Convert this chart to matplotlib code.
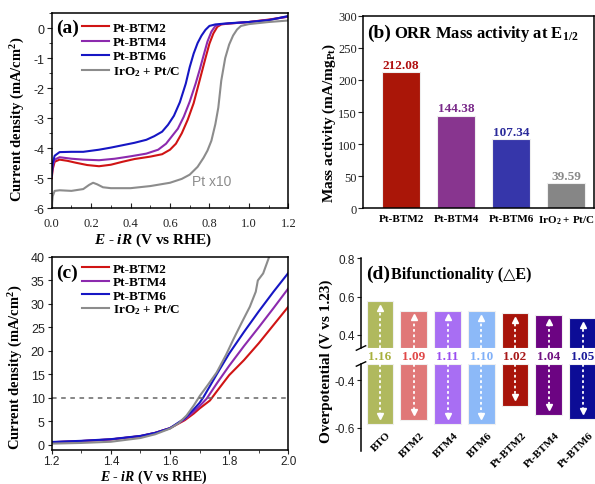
import numpy as np
import matplotlib
matplotlib.use("Agg")
import matplotlib.pyplot as plt
from matplotlib import ticker
from matplotlib.transforms import blended_transform_factory

# (a) ORR polarisation curves, E - iR (V vs RHE) vs current density (mA/cm2)
a_x_btm2 = [0.0, 0.005, 0.015, 0.04, 0.08, 0.12, 0.18, 0.24, 0.30, 0.36, 0.42, 0.50, 0.56, 0.60,
            0.63, 0.66, 0.69, 0.72, 0.74, 0.76, 0.78, 0.80, 0.82, 0.84, 0.86, 0.90, 1.00, 1.10, 1.20]
a_y_btm2 = [-5.0, -4.7, -4.45, -4.38, -4.42, -4.48, -4.56, -4.60, -4.55, -4.45, -4.36, -4.28, -4.20, -4.05,
            -3.85, -3.50, -3.05, -2.50, -2.00, -1.50, -1.00, -0.52, -0.18, 0.04, 0.12, 0.15, 0.20, 0.28, 0.38]
a_x_btm4 = [0.0, 0.005, 0.015, 0.04, 0.10, 0.16, 0.24, 0.32, 0.40, 0.48, 0.54, 0.58, 0.61, 0.64,
            0.67, 0.70, 0.73, 0.75, 0.77, 0.79, 0.81, 0.83, 0.86, 0.90, 1.00, 1.10, 1.20]
a_y_btm4 = [-4.95, -4.6, -4.38, -4.30, -4.35, -4.38, -4.40, -4.35, -4.27, -4.18, -4.05, -3.85, -3.60, -3.35,
            -2.95, -2.45, -1.85, -1.40, -0.92, -0.45, -0.12, 0.07, 0.13, 0.15, 0.20, 0.27, 0.38]
a_x_btm6 = [0.0, 0.005, 0.015, 0.04, 0.10, 0.16, 0.24, 0.30, 0.36, 0.42, 0.48, 0.52, 0.56, 0.59,
            0.62, 0.65, 0.68, 0.70, 0.72, 0.74, 0.76, 0.78, 0.80, 0.83, 0.90, 1.00, 1.10, 1.20]
a_y_btm6 = [-4.9, -4.5, -4.25, -4.13, -4.12, -4.12, -4.05, -3.98, -3.90, -3.82, -3.72, -3.60, -3.45, -3.22,
            -2.92, -2.47, -1.85, -1.30, -0.85, -0.50, -0.25, -0.06, 0.07, 0.12, 0.16, 0.20, 0.26, 0.40]
a_x_iro2 = [0.0, 0.005, 0.015, 0.04, 0.10, 0.16, 0.19, 0.21, 0.23, 0.26, 0.30, 0.40, 0.50, 0.60, 0.66,
            0.70, 0.74, 0.77, 0.79, 0.81, 0.83, 0.845, 0.86, 0.88, 0.90, 0.92, 0.94, 0.96, 1.00, 1.10, 1.20]
a_y_iro2 = [-6.0, -5.6, -5.42, -5.40, -5.42, -5.36, -5.22, -5.15, -5.20, -5.30, -5.33, -5.33, -5.26, -5.15, -5.02,
            -4.88, -4.62, -4.32, -4.08, -3.75, -3.20, -2.65, -1.75, -1.00, -0.55, -0.25, -0.05, 0.07, 0.13, 0.20, 0.25]

# (b) ORR mass activity at E1/2 (mA/mg_Pt)
b_names = ["Pt-BTM2", "Pt-BTM4", "Pt-BTM6", r"IrO$_{\rm 2}$ + Pt/C"]
b_values = [212.08, 144.38, 107.34, 39.59]

# (c) OER polarisation curves
c_x_btm2 = [1.20, 1.30, 1.40, 1.50, 1.55, 1.60, 1.65, 1.68, 1.70, 1.735, 1.76, 1.80, 1.85, 1.90, 1.95, 2.00]
c_y_btm2 = [0.5, 0.75, 1.1, 1.8, 2.5, 3.5, 5.2, 6.6, 7.7, 9.4, 11.5, 14.8, 18.0, 21.6, 25.5, 29.4]
c_x_btm4 = [1.20, 1.30, 1.40, 1.50, 1.55, 1.60, 1.65, 1.68, 1.70, 1.724, 1.76, 1.80, 1.85, 1.90, 1.95, 2.00]
c_y_btm4 = [0.5, 0.75, 1.1, 1.8, 2.5, 3.5, 5.4, 7.0, 8.2, 9.8, 13.2, 16.8, 21.0, 25.0, 29.1, 33.3]
c_x_btm6 = [1.20, 1.30, 1.40, 1.50, 1.55, 1.60, 1.65, 1.68, 1.70, 1.713, 1.76, 1.80, 1.85, 1.90, 1.95, 2.00]
c_y_btm6 = [0.55, 0.8, 1.15, 1.85, 2.5, 3.5, 5.6, 7.5, 8.9, 10.1, 15.2, 19.4, 24.0, 28.4, 32.6, 36.6]
c_x_iro2 = [1.20, 1.30, 1.40, 1.50, 1.55, 1.60, 1.63, 1.656, 1.68, 1.701, 1.73, 1.758, 1.79, 1.814,
            1.84, 1.870, 1.89, 1.897, 1.915, 1.938]
c_y_iro2 = [0.2, 0.35, 0.6, 1.4, 2.2, 3.4, 4.6, 6.2, 8.3, 10.4, 12.9, 15.4, 19.2, 22.4,
            25.7, 29.4, 32.6, 35.0, 36.5, 40.5]

# (d) bifunctionality: OER / ORR overpotentials (V vs 1.23) and delta E
d_names = ["BTO", "BTM2", "BTM4", "BTM6", "Pt-BTM2", "Pt-BTM4", "Pt-BTM6"]
d_oer = [0.575, 0.527, 0.527, 0.523, 0.513, 0.503, 0.489]
d_orr = [-0.583, -0.567, -0.583, -0.583, -0.507, -0.546, -0.564]
d_delta = [1.16, 1.09, 1.11, 1.10, 1.02, 1.04, 1.05]

red, purple, blue, gray = "#d01414", "#8c2aae", "#1616c4", "#8c8c8c"
b_colors = ["#aa1608", "#88358f", "#3636aa", "#868686"]
b_text_colors = ["#b01010", "#7a2a8a", "#2a2a9a", "#8a8a8a"]
d_colors = ["#b0b95e", "#e07878", "#a86ef3", "#8cb9f8", "#a8140a", "#6c0482", "#0c0c96"]
d_text_colors = ["#a8b03c", "#e04848", "#9a4cf0", "#80b0f8", "#a81818", "#701080", "#1a1a9a"]

plt.rcParams.update({
    "font.family": ["Liberation Serif", "DejaVu Sans"],
    "mathtext.fontset": "custom",
    "mathtext.rm": "Liberation Serif:bold",
    "mathtext.it": "Liberation Serif:italic:bold",
    "mathtext.bf": "Liberation Serif:bold",
    "axes.unicode_minus": False,
    "axes.linewidth": 1.1,
})

fig = plt.figure(figsize=(5.95, 4.85), dpi=100)
W, H = 595.0, 485.0


def box(l, t, r, b):
    return [l / W, 1 - b / H, (r - l) / W, (b - t) / H]


tickfont = 9
sans = "Liberation Sans"
lab = dict(fontsize=10.5, fontweight="bold")
legprop = dict(weight="bold", size=9.5)
kw = dict(lw=1.5)

# ---------------- (a)
ax = fig.add_axes(box(51.7, 14, 288.3, 209.3))
ax.plot(a_x_btm2, a_y_btm2, color=red, label="Pt-BTM2", **kw)
ax.plot(a_x_btm4, a_y_btm4, color=purple, label="Pt-BTM4", **kw)
ax.plot(a_x_btm6, a_y_btm6, color=blue, label="Pt-BTM6", **kw)
ax.plot(a_x_iro2, a_y_iro2, color=gray, label=r"IrO$_{\rm 2}$ + Pt/C", **kw)
ax.set_xlim(0, 1.2)
ax.set_ylim(-6, 0.5)
ax.xaxis.set_major_locator(ticker.MultipleLocator(0.2))
ax.xaxis.set_minor_locator(ticker.MultipleLocator(0.1))
ax.xaxis.set_major_formatter(ticker.FormatStrFormatter("%.1f"))
ax.yaxis.set_major_locator(ticker.MultipleLocator(1))
ax.yaxis.set_minor_locator(ticker.MultipleLocator(0.5))
ax.tick_params(axis="x", which="both", direction="in", labelsize=tickfont, pad=6, colors="#222222")
ax.tick_params(axis="y", which="both", direction="out", labelsize=tickfont, pad=2, colors="#222222")
ax.tick_params(which="major", length=3.5)
ax.tick_params(which="minor", length=2)
for t in ax.get_yticklabels():
    t.set_family(sans)
ax.set_ylabel(r"Current density (mA/cm$^{\rm 2}$)", **lab)
ax.yaxis.set_label_coords(-0.105, 0.46)
ax.set_xlabel(r"$E$ - $iR$ (V vs RHE)", fontsize=11, fontweight="bold")
ax.xaxis.set_label_coords(0.43, -0.115)
ax.text(0.02, 0.925, "(a)", transform=ax.transAxes, fontsize=14, fontweight="bold", va="center")
ax.legend(loc="upper left", bbox_to_anchor=(0.13, 0.955), frameon=False, prop=legprop,
          handlelength=2.0, handletextpad=0.3, labelspacing=0.15, borderpad=0, borderaxespad=0)
ax.text(0.71, -5.09, "Pt x10", color=gray, fontsize=10, family=sans, va="center")

# ---------------- (b)
ax = fig.add_axes(box(363, 16.7, 594, 209.3))
xb = np.arange(len(b_values))
ax.bar(xb, b_values, width=0.7, color=b_colors, edgecolor="#eeeeee", lw=0.8)
for i, v in enumerate(b_values):
    ax.text(xb[i], v + 2, "%.2f" % v, color=b_text_colors[i], ha="center", va="bottom",
            fontsize=9.5, fontweight="bold")
ax.set_xlim(-0.695, 3.505)
ax.set_ylim(0, 300)
ax.yaxis.set_major_locator(ticker.MultipleLocator(50))
ax.set_xticks(xb)
ax.set_xticklabels(b_names, fontsize=8, fontweight="bold")
ax.tick_params(axis="x", length=0, pad=4)
ax.tick_params(axis="y", direction="out", length=3.5, labelsize=tickfont, pad=1, colors="#222222")
ax.set_ylabel(r"Mass activity (mA/mg$_{\rm Pt}$)", fontsize=11, fontweight="bold")
ax.yaxis.set_label_coords(-0.108, 0.45)
ax.text(0.02, 0.888, "(b)", transform=ax.transAxes, fontsize=14, fontweight="bold", va="baseline")
ax.text(0.135, 0.888, r"ORR Mass activity at E$_{\rm 1/2}$", transform=ax.transAxes,
        fontsize=12, fontweight="bold", va="baseline")

# ---------------- (c)
ax = fig.add_axes(box(51.7, 258, 288.3, 450.5))
ax.plot(c_x_btm2, c_y_btm2, color=red, label="Pt-BTM2", **kw)
ax.plot(c_x_btm4, c_y_btm4, color=purple, label="Pt-BTM4", **kw)
ax.plot(c_x_btm6, c_y_btm6, color=blue, label="Pt-BTM6", **kw)
ax.plot(c_x_iro2, c_y_iro2, color=gray, label=r"IrO$_{\rm 2}$ + Pt/C", **kw)
ax.axhline(10, color="#666666", ls=(0, (3, 3)), lw=1.1)
ax.set_xlim(1.2, 2.0)
ax.set_ylim(-1.05, 40)
ax.xaxis.set_major_locator(ticker.MultipleLocator(0.2))
ax.xaxis.set_minor_locator(ticker.MultipleLocator(0.1))
ax.xaxis.set_major_formatter(ticker.FormatStrFormatter("%.1f"))
ax.yaxis.set_major_locator(ticker.MultipleLocator(5))
ax.tick_params(axis="y", which="both", direction="out", labelsize=tickfont, pad=2, colors="#222222")
ax.tick_params(axis="x", which="both", direction="out", labelsize=8.5, pad=1, colors="#222222")
ax.tick_params(which="major", length=3)
ax.tick_params(which="minor", length=2)
for t in ax.get_yticklabels() + ax.get_xticklabels():
    t.set_family(sans)
ax.set_ylabel(r"Current density (mA/cm$^{\rm 2}$)", **lab)
ax.yaxis.set_label_coords(-0.113, 0.43)
ax.set_xlabel(r"$E$ - $iR$ (V vs RHE)", fontsize=10, fontweight="bold")
ax.xaxis.set_label_coords(0.43, -0.094)
ax.text(0.02, 0.919, "(c)", transform=ax.transAxes, fontsize=14, fontweight="bold", va="center")
ax.legend(loc="upper left", bbox_to_anchor=(0.13, 0.97), frameon=False, prop=legprop,
          handlelength=2.0, handletextpad=0.3, labelspacing=0.08, borderpad=0, borderaxespad=0)

# ---------------- (d)
ax_up = fig.add_axes(box(361, 259.3, 595, 349))
ax_lo = fig.add_axes(box(361, 365, 595, 452))
xd = np.arange(len(d_names))
oer = np.array(d_oer)
orr = np.array(d_orr)
up_base, lo_base = 0.332, -0.333
ax_up.bar(xd, oer - up_base, bottom=up_base, width=0.79, color=d_colors, edgecolor="#f0f0f0", lw=0.8)
ax_lo.bar(xd, orr - lo_base, bottom=lo_base, width=0.79, color=d_colors, edgecolor="#f0f0f0", lw=0.8)
ax_up.vlines(xd, up_base, oer - 0.03, colors="white", linestyles=(0, (1.5, 1.5)), lw=1.3)
ax_up.plot(xd, oer - 0.035, "^", color="white", ms=4.5, mec="white")
ax_lo.vlines(xd, lo_base, orr + 0.03, colors="white", linestyles=(0, (1.5, 1.5)), lw=1.3)
ax_lo.plot(xd, orr + 0.035, "v", color="white", ms=4.5, mec="white")
for a, lo, hi, ticks in [(ax_up, up_base, 0.8, [0.4, 0.6, 0.8]), (ax_lo, -0.696, lo_base, [-0.6, -0.4])]:
    a.set_xlim(-0.563, 6.37)
    a.set_ylim(lo, hi)
    a.set_yticks(ticks)
    a.yaxis.set_major_formatter(ticker.FormatStrFormatter("%.1f"))
    a.set_xticks([])
    for s in ["top", "right", "bottom"]:
        a.spines[s].set_visible(False)
    a.tick_params(axis="y", direction="out", length=3, labelsize=8.5, pad=1.5, colors="#222222")
    for t in a.get_yticklabels():
        t.set_family(sans)
# axis break marks
for a, y0 in [(ax_up, 0.0), (ax_lo, 1.0)]:
    a.plot([-0.02, 0.02], [y0 - 0.025, y0 + 0.025], transform=a.transAxes, color="k", lw=1, clip_on=False)
tr = blended_transform_factory(ax_lo.transData, ax_lo.transAxes)
for i, v in enumerate(d_delta):
    ax_lo.text(xd[i], 1.09, "%.2f" % v, transform=tr, color=d_text_colors[i], ha="center", va="center",
               fontsize=9.5, fontweight="bold", clip_on=False)
for i, name in enumerate(d_names):
    ax_lo.text(xd[i] + 0.38, -0.608, name, rotation=45, ha="right", va="top", fontsize=8, fontweight="bold")
fig.text(326 / W, 1 - 361.7 / H, "Overpotential (V vs 1.23)", rotation=90, ha="center", va="center",
         fontsize=11, fontweight="bold")
ax_up.text(0.02, 0.78, "(d)", transform=ax_up.transAxes, fontsize=14, fontweight="bold", va="baseline")
ax_up.text(0.13, 0.78, "Bifunctionality (\u25b3E)", transform=ax_up.transAxes, fontsize=11.5,
           fontweight="bold", va="baseline")

fig.savefig("out.png", dpi=100)
